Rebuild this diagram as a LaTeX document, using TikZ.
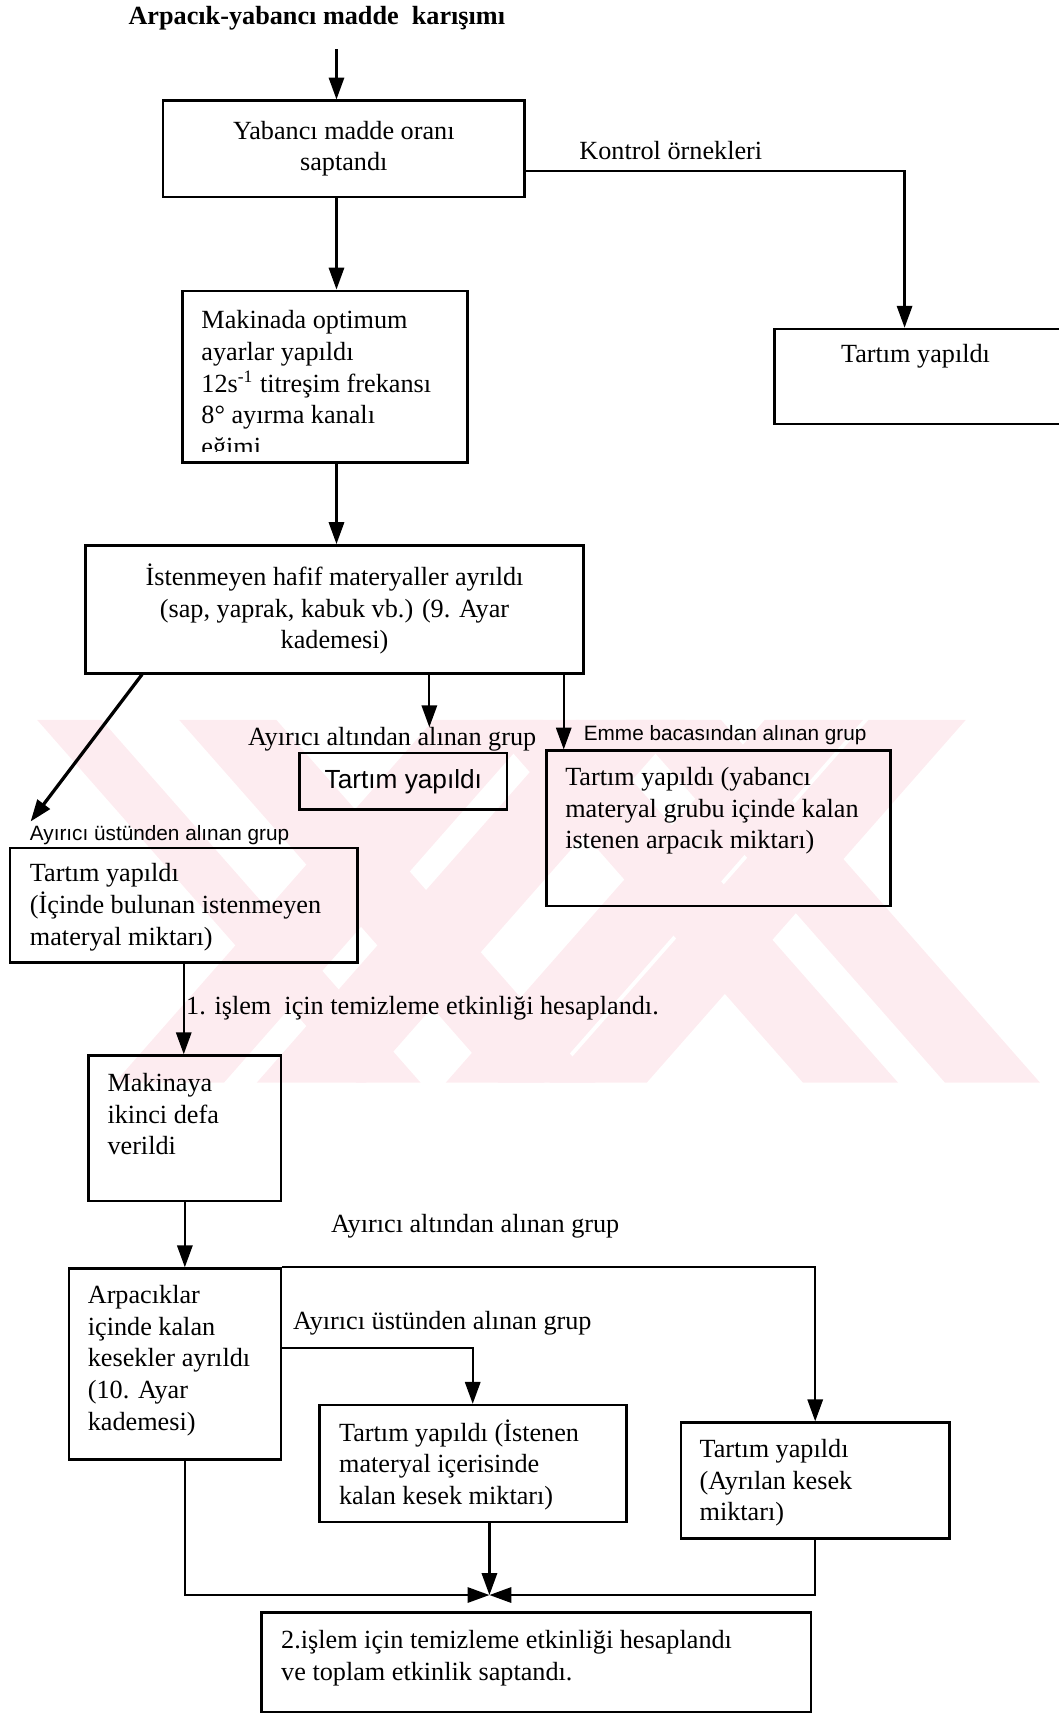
\documentclass[tikz,border=0pt]{standalone}
\usepackage{fontspec}
\setmainfont{Liberation Serif}
\setsansfont{Liberation Sans}
\usetikzlibrary{arrows.meta}

\definecolor{wmpink}{RGB}{253,236,240}

\tikzset{
  box/.style={draw, line width=1.2pt, inner sep=0pt, anchor=north west},
  txt/.style={inner sep=0pt, align=left, anchor=north west, font=\fontsize{12}{14.5}\selectfont},
  ctxt/.style={align=center, font=\fontsize{12}{14.5}\selectfont},
  lbl/.style={inner sep=0pt, font=\fontsize{12}{14.5}\selectfont},
  slbl/.style={inner sep=0pt, font=\sffamily\fontsize{9.5}{11}\selectfont},
  con/.style={line width=1pt},
  wm/.style={fill=wmpink},
  >={Triangle[length=10pt,width=7pt]},
}

\begin{document}
\begin{tikzpicture}[x=0.5pt, y=-0.5pt]
    \useasboundingbox (0,0) rectangle (969,1568);

    % faint background stamp
    \foreach \a/\b in {34/93,164/253,443/530,573/660}
      \fill[wm] (\a,659) -- (\b,659) -- (\b+292,991) -- (\a+292,991) -- cycle;
    \foreach \a/\b in {397/497,527/627,700/790,795/884}
      \fill[wm] (\a,659) -- (\b,659) -- (\b-292,991) -- (\a-292,991) -- cycle;

    % top part
    \node[lbl, font=\bfseries\fontsize{12}{14.5}\selectfont] (title) at (290,17) {Arpacık-yabancı madde\ \ karışımı};
    \coordinate (in) at (308,45);
    \node[box, ctxt, minimum width=165.5pt, minimum height=44pt] (b1) at (148,91) {Yabancı madde oranı\\saptandı};
    \node[lbl, anchor=west] (kontrol) at (530,138) {Kontrol örnekleri};
    \node[box, minimum width=133.5pt, minimum height=43.5pt] (b1r) at (708,300) {};
    \node[lbl] (t1r) at (838,326) {Tartım yapıldı};

    \node[box, minimum width=130.5pt, minimum height=78.5pt] (b2) at (166,265) {};
    \begin{scope}
      \clip (166,265) rectangle (427,413);
      \node[txt] (t2) at (184,284) {Makinada optimum\\ayarlar yapıldı\\12s\textsuperscript{-1} titreşim frekansı\\8° ayırma kanalı\\eğimi};
    \end{scope}

    \node[box, ctxt, minimum width=228pt, minimum height=58.5pt] (b3) at (77,498) {İstenmeyen hafif materyaller ayrıldı\\(sap, yaprak, kabuk vb.) (9. Ayar\\kademesi)};

    % first separation
    \node[lbl] (alt1) at (359,677) {Ayırıcı altından alınan grup};
    \node[box, minimum width=95pt, minimum height=26pt, font=\sffamily\fontsize{12}{14.5}\selectfont] (b4) at (273,688) {Tartım yapıldı};
    \node[slbl, anchor=west] (emme) at (534,673) {Emme bacasından alınan grup};
    \node[box, minimum width=157.5pt, minimum height=71pt] (b5) at (499,686) {};
    \node[txt] (t5) at (517,702) {Tartım yapıldı (yabancı\\materyal grubu içinde kalan\\istenen arpacık miktarı)};
    \node[slbl, anchor=west] (ust1) at (27,764) {Ayırıcı üstünden alınan grup};
    \coordinate (dg) at (28,752);
    \node[box, minimum width=159pt, minimum height=52.5pt] (b6) at (8,775) {};
    \node[txt] (t6) at (27,790) {Tartım yapıldı\\(İçinde bulunan istenmeyen\\materyal miktarı)};

    \node[lbl, anchor=west] (islem) at (170,923) {1. işlem\ \ için temizleme etkinliği hesaplandı.};
    \node[box, minimum width=88pt, minimum height=66.5pt] (b7) at (80,965) {};
    \node[txt] (t7) at (98,982) {Makinaya\\ikinci defa\\verildi};

    % second separation
    \node[lbl] (alt2) at (435,1122) {Ayırıcı altından alınan grup};
    \node[box, minimum width=97pt, minimum height=87.5pt] (b8) at (62,1160) {};
    \node[txt] (t8) at (80,1176) {Arpacıklar\\içinde kalan\\kesekler ayrıldı\\(10. Ayar\\kademesi)};
    \node[lbl, anchor=west] (ust2) at (268,1211) {Ayırıcı üstünden alınan grup};
    \node[box, minimum width=140.5pt, minimum height=53.5pt] (b9) at (291,1285) {};
    \node[txt] (t9) at (310,1299) {Tartım yapıldı (İstenen\\materyal içerisinde\\kalan kesek miktarı)};
    \node[box, minimum width=123pt, minimum height=53pt] (b10) at (622,1301) {};
    \node[txt] (t10) at (640,1317) {Tartım yapıldı\\(Ayrılan kesek\\miktarı)};
    \coordinate (m) at (448,1460);
    \node[box, minimum width=251.5pt, minimum height=45.5pt] (b11) at (238,1475) {};
    \node[txt] (t11) at (257,1492) {2.işlem için temizleme etkinliği hesaplandı\\ve toplam etkinlik saptandı.};

    % connectors
    \coordinate (x308) at (308,0);
    \draw[con, ->] (in) -- (b1.north -| in);
    \draw[con, ->] (b1.south -| x308) -- (b2.north -| x308);
    \draw[con, ->] ([yshift=-10pt]b1.east) -| ([xshift=60pt]b1r.north west);
    \draw[con, ->] (b2.south -| x308) -- (b3.north -| x308);
    \draw[line width=1.5pt, ->] ([xshift=26.5pt]b3.south west) -- (dg);
    \draw[con, ->] ([xshift=158pt]b3.south west) -- ([xshift=158pt]b3.south west |- alt1.north);
    \draw[con, ->] ([xshift=8.5pt]b5.north west |- b3.south) -- ([xshift=8.5pt]b5.north west);
    \draw[con, ->] (b6.south) -- (b6.south |- b7.north);
    \draw[con, ->] (b7.south) -- (b7.south |- b8.north);
    \draw[con, ->] (b8.north east) -| (b10.north);
    \draw[con, ->] ([yshift=7.25pt]b8.east) -| (b9.north);
    \draw[con, ->] ([xshift=4.5pt]b8.south) |- (m);
    \draw[con, ->] (b9.south -| m) -- (m);
    \draw[con, ->] (b10.south) |- (m);
\end{tikzpicture}
\end{document}
